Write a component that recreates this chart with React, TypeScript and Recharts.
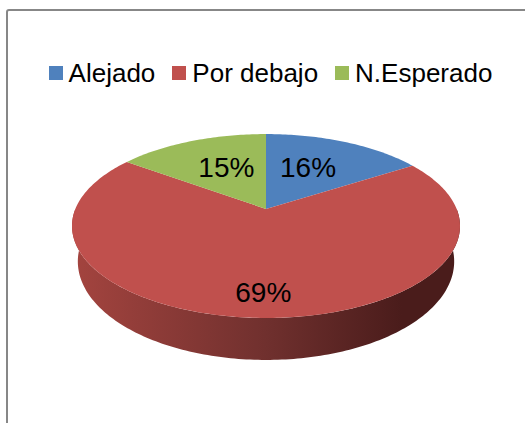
import React from 'react';
import { PieChart, Pie, Cell, Legend } from 'recharts';

const categories = ['Alejado', 'Por debajo', 'N.Esperado'];
const values = [16, 69, 15];
const colors = ['#4F81BD', '#C0504D', '#9BBB59'];
// side wall gradient stops: left (lit) -> middle -> right (shade)
const sideColors: Record<string, string[]> = {
  '#4F81BD': ['#3f6797', '#2f4d72', '#243c5a'],
  '#C0504D': ['#a4443f', '#70302e', '#4a1c1b'],
  '#9BBB59': ['#7c9647', '#5f7236', '#4a5a2b'],
};

const data = categories.map((name, i) => ({ name, value: values[i] }));

const W = 525;
const H = 423;
const CX = 266;
const CY = 226;
const RX = 194;
const FLAT = 0.474; // vertical squash of the top ellipse
const LIFT = 17; // projected centre sits above the ellipse centre (perspective)
const DEPTH = 42; // rim height at the front
const SHRINK = 0.97; // bottom rim a bit narrower
const FONT = '"Liberation Sans", Arial, sans-serif';

const rad = (a: number) => (a * Math.PI) / 180;

// perspective projection of a point of the pie disc (true angle a, radius fraction r)
const makeProj = (cx: number, cy: number, R: number) => {
  const ry = R * FLAT;
  const c = -LIFT / ry;
  const y0 = cy - LIFT;
  const L = (ry - LIFT) * (1 - c);
  const K = R * Math.sqrt(1 - c * c);
  const D = DEPTH * (1 + c);
  return (a: number, bottom = false) => {
    const u = Math.cos(rad(a));
    const v = -Math.sin(rad(a));
    const d = 1 + c * v;
    const sx = bottom ? SHRINK : 1;
    return [cx + (K * u * sx) / d, y0 + (L * v) / d + (bottom ? D / d : 0)];
  };
};

const arcPts = (proj: any, from: number, to: number, bottom = false) => {
  const n = Math.max(2, Math.ceil(Math.abs(from - to)));
  const out: string[] = [];
  for (let i = 0; i <= n; i++) {
    const [x, y] = proj(from + ((to - from) * i) / n, bottom);
    out.push(`${x.toFixed(2)},${y.toFixed(2)}`);
  }
  return out;
};

const Slice3D = (props: any) => {
  const { cx, cy, outerRadius, startAngle, endAngle, fill } = props;
  const proj = makeProj(cx, cy, outerRadius);
  const hi = Math.max(startAngle, endAngle);
  const lo = Math.min(startAngle, endAngle);
  const top = `M${cx},${cy - LIFT} L${arcPts(proj, hi, lo).join(' L')} Z`;

  // only the front half of the rim is visible
  const walls: string[] = [];
  for (let k = -2; k <= 1; k++) {
    const h = Math.min(hi, 360 * k);
    const l = Math.max(lo, -180 + 360 * k);
    if (h > l) {
      const pts = [...arcPts(proj, h, l), ...arcPts(proj, l, h, true)];
      walls.push(`M${pts.join(' L')} Z`);
    }
  }
  const gid = `side-${String(fill).replace('#', '')}`;
  return (
    <g>
      {walls.map((d, i) => (
        <path key={i} d={d} fill={`url(#${gid})`} stroke="none" />
      ))}
      <path d={top} fill={fill} stroke="none" />
    </g>
  );
};

const renderLabel = (props: any) => {
  const { cx, cy, midAngle, percent } = props;
  const x = cx + RX * 0.45 * Math.cos(rad(midAngle));
  const y = cy - RX * FLAT * 0.72 * Math.sin(rad(midAngle));
  return (
    <text
      x={x}
      y={y}
      textAnchor="middle"
      dominantBaseline="central"
      fontFamily={FONT}
      fontSize={28}
      fill="#000"
    >
      {`${Math.round(percent * 100)}%`}
    </text>
  );
};

const renderLegend = (props: any) => {
  const payload = [...(props.payload || [])].sort(
    (a: any, b: any) => categories.indexOf(a.value) - categories.indexOf(b.value)
  );
  return (
    <div
      style={{
        display: 'flex',
        justifyContent: 'center',
        alignItems: 'center',
        fontFamily: FONT,
        fontSize: 26,
        color: '#000',
        lineHeight: '30px',
      }}
    >
      {payload.map((p: any, i: number) => (
        <div
          key={p.value}
          style={{ display: 'flex', alignItems: 'center', marginRight: i < payload.length - 1 ? 17 : 0 }}
        >
          <span style={{ display: 'inline-block', width: 14, height: 14, background: p.color, marginRight: 6 }} />
          <span>{p.value}</span>
        </div>
      ))}
    </div>
  );
};

export default function App() {
  return (
    <div style={{ position: 'absolute', left: 0, top: 0, width: W, height: H, background: '#fff', overflow: 'hidden' }}>
      <div
        style={{
          position: 'absolute',
          left: 6,
          top: 9,
          width: W + 20,
          height: H + 20,
          border: '2px solid #878787',
          borderRadius: 3,
        }}
      />
      <div style={{ position: 'absolute', left: 0, top: 0 }}>
        <PieChart width={W} height={H} margin={{ top: 0, right: 0, bottom: 0, left: 0 }}>
          <defs>
            {colors.map((c) => (
              <linearGradient
                key={c}
                id={`side-${c.replace('#', '')}`}
                gradientUnits="userSpaceOnUse"
                x1={CX - RX}
                y1={0}
                x2={CX + RX}
                y2={0}
              >
                <stop offset="0%" stopColor={sideColors[c][0]} />
                <stop offset="50%" stopColor={sideColors[c][1]} />
                <stop offset="85%" stopColor={sideColors[c][2]} />
                <stop offset="100%" stopColor={sideColors[c][2]} />
              </linearGradient>
            ))}
          </defs>
          <Legend
            layout="horizontal"
            verticalAlign="middle"
            align="center"
            content={renderLegend}
            wrapperStyle={{ top: 58, left: 8, width: W }}
          />
          <Pie
            data={data}
            dataKey="value"
            nameKey="name"
            cx={CX}
            cy={CY}
            outerRadius={RX}
            startAngle={90}
            endAngle={-270}
            stroke="none"
            isAnimationActive={false}
            labelLine={false}
            label={renderLabel}
            shape={Slice3D}
            activeShape={Slice3D}
            inactiveShape={Slice3D}
            legendType="rect"
          >
            {data.map((d, i) => (
              <Cell key={d.name} fill={colors[i]} />
            ))}
          </Pie>
        </PieChart>
      </div>
    </div>
  );
}
